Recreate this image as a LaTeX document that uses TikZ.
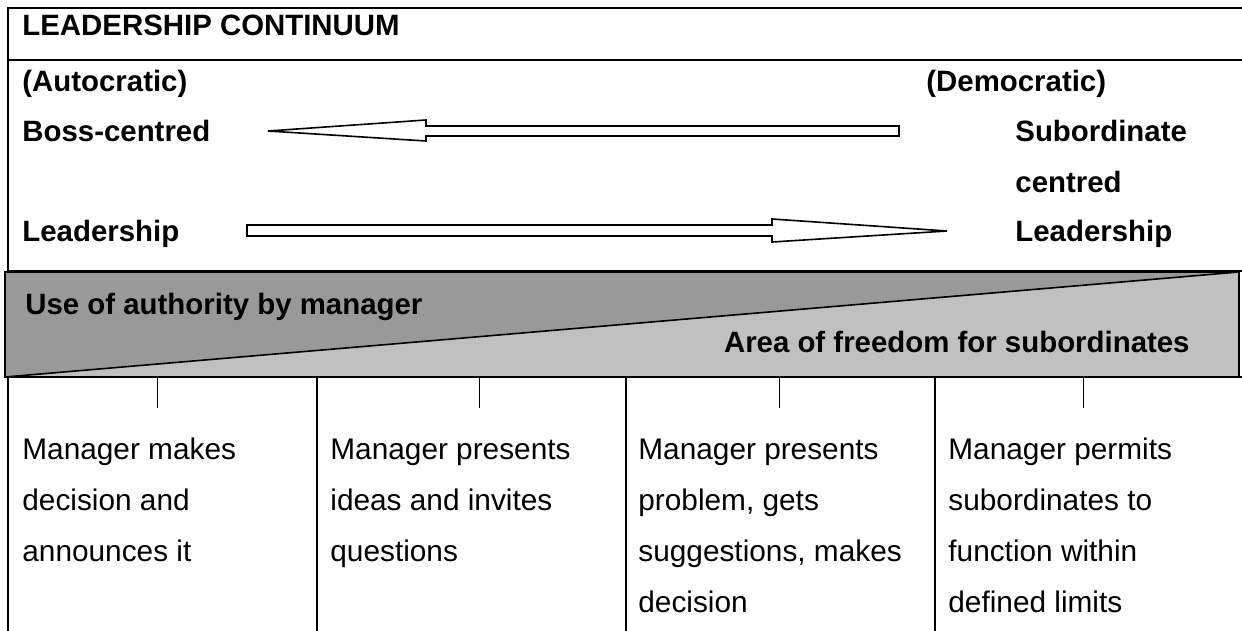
\documentclass[tikz,border=0pt]{standalone}
\usepackage{fontspec}
\setmainfont{Liberation Sans}
\usepackage{tikz}
\definecolor{authgray}{RGB}{153,153,153}
\definecolor{freegray}{RGB}{192,192,192}
\tikzstyle{heading} = [inner sep=0pt, anchor=base west, font=\fontsize{14.7}{17}\selectfont\bfseries]
% base of a multi-line node = baseline of its last line
\tikzstyle{colbox} = [inner sep=0pt, anchor=base west, align=left, font=\fontsize{14.9}{25.5}\selectfont]
\tikzstyle{rule} = [line width=1pt]
\tikzstyle{tick} = [line width=0.5pt]
\tikzstyle{blockarrow} = [draw, line width=0.8pt, fill=white, line join=miter]

\begin{document}
\begin{tikzpicture}[x=0.5pt, y=-0.5pt]
\useasboundingbox (0,0) rectangle (1242,631);
% frame of the upper table
\draw[rule] (1242,8) -- (8,8) -- (8,271);
\draw[rule] (8,60) -- (1242,60);
\node[heading] (title) at (22,36) {LEADERSHIP CONTINUUM};
\node[heading] (autocratic) at (22,92) {(Autocratic)};
\node[heading] (democratic) at (926,92) {(Democratic)};
\node[heading] (bosscentred) at (22,141) {Boss-centred};
\node[heading] (leadleft) at (22,241) {Leadership};
\node[heading] (subord) at (1015,141) {Subordinate};
\node[heading] (centred) at (1015,192) {centred};
\node[heading] (leadright) at (1015,241) {Leadership};
% block arrows
\draw[blockarrow] (899,126) -- (426,126) -- (426,120) -- (268,131) -- (426,141) -- (426,136) -- (899,136) -- cycle;
\draw[blockarrow] (247,225) -- (772,225) -- (772,219) -- (947,231) -- (772,242) -- (772,236) -- (247,236) -- cycle;
% shaded band
\fill[authgray] (5,272) rectangle (1239,377);
\fill[freegray] (5,377) -- (1239,272) -- (1239,377) -- cycle;
\draw[rule] (8,271) -- (1242,271);
\draw[line width=0.8pt] (5,272) rectangle (1239,377);
\draw[line width=0.8pt] (5,377) -- (1239,272);
\draw[rule] (1239,377) -- (1242,377);
\node[heading] (authority) at (25,314) {Use of authority by manager};
\node[heading, anchor=base east] (freedom) at (1190,352) {Area of freedom for subordinates};
% columns below
\draw[rule] (8,377) -- (8,631);
\draw[rule] (317,377) -- (317,631);
\draw[rule] (626,377) -- (626,631);
\draw[rule] (935,377) -- (935,631);
\draw[tick] (157,377) -- (157,408);
\draw[tick] (479,377) -- (479,408);
\draw[tick] (779,377) -- (779,408);
\draw[tick] (1083,377) -- (1083,408);
\node[colbox] (colA) at (22,561) {Manager makes\\decision and\\announces it};
\node[colbox] (colB) at (330,561) {Manager presents\\ideas and invites\\questions};
\node[colbox] (colC) at (638,612) {Manager presents\\problem, gets\\suggestions, makes\\decision};
\node[colbox] (colD) at (948,612) {Manager permits\\subordinates to\\function within\\defined limits};
\end{tikzpicture}
\end{document}
